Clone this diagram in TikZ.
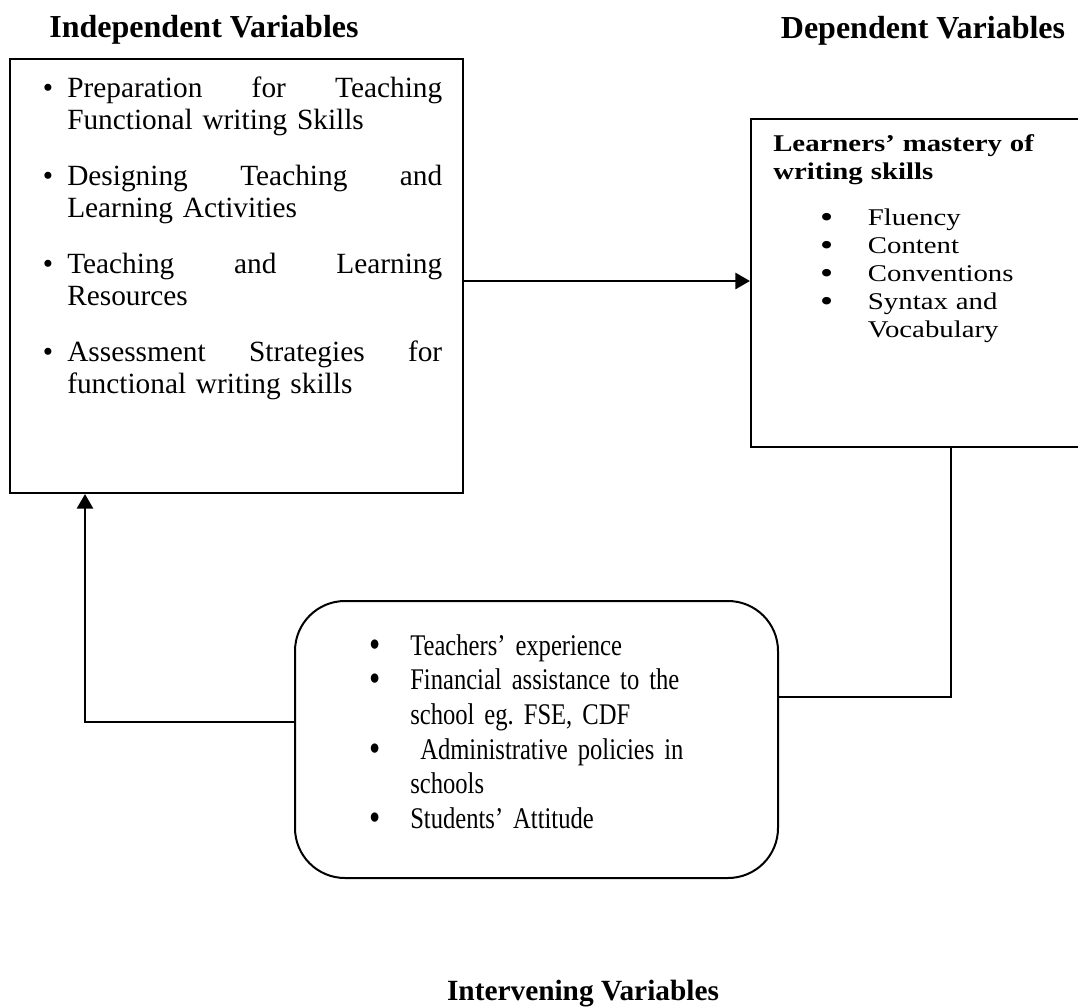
\documentclass[tikz,border=0pt]{standalone}
\usepackage{fontspec}
\usepackage{graphicx}
\setmainfont{Liberation Serif}
\newfontfamily\widefont[FakeStretch=1.2]{Liberation Serif}
\newfontfamily\narrowfont[FakeStretch=0.82]{Liberation Serif}
\usetikzlibrary{arrows.meta,positioning,calc}
\newcommand{\indbullet}{\leavevmode\llap{\textbullet\hspace{10.5pt}}}
\newcommand{\depbullet}{\leavevmode\hspace*{71pt}\llap{\raisebox{-1.5pt}{\scalebox{1.3}{\textbullet}}\hspace{26pt}}}
\newcommand{\intbullet}{\leavevmode\llap{\raisebox{-1.5pt}{\scalebox{1.3}{\textbullet}}\hspace{22pt}}}

\begin{document}
\begin{tikzpicture}[
    x=0.75pt,y=-0.75pt,
    frame/.style={draw,line width=1.5pt,inner sep=0pt},
    list/.style={inner sep=0pt,anchor=north west,align=left},
    head/.style={anchor=base,inner sep=0pt,font=\fontsize{24}{28}\selectfont\bfseries},
    arr/.style={-{Triangle[length=11pt,width=12pt]},line width=2.2pt},
    link/.style={line width=1.5pt}
  ]
    \useasboundingbox (0,0) rectangle (1078,1007);
    % headings
    \node[head] (indhead) at (204,37) {Independent Variables};
    \node[head] (dephead) at (923,38) {Dependent Variables};
    \node[head,font=\fontsize{22}{26}\selectfont\bfseries] (inthead) at (583,1000) {Intervening Variables};
    % boxes
    \node[frame,minimum width=339.75pt,minimum height=325.5pt] (indbox) at (236.5,276) {};
    \node[frame,minimum width=250.5pt,minimum height=246pt] (depbox) at (918,283) {};
    \node[frame,rounded corners=37.5pt,minimum width=362.25pt,minimum height=207.75pt] (intbox) at (536.5,739.5) {};
    % box contents
    \node[list,text width=281.25pt,font=\fontsize{22}{24}\selectfont] (indtext) at (67,77) {%
      \indbullet Preparation\hfill for\hfill Teaching\\
      Functional writing Skills\\[18pt]
      \indbullet Designing\hfill Teaching\hfill and\\
      Learning Activities\\[18pt]
      \indbullet Teaching\hfill and\hfill Learning\\
      Resources\\[18pt]
      \indbullet Assessment\hfill Strategies\hfill for\\
      functional writing skills};
    \node[list,text width=225pt,font=\widefont\fontsize{18}{21}\selectfont] (deptext) at (773,134) {%
      \textbf{Learners’ mastery of}\\
      \textbf{writing skills}\\[13.5pt]
      \depbullet Fluency\\
      \depbullet Content\\
      \depbullet Conventions\\
      \depbullet Syntax and\\
      \hspace*{71pt}Vocabulary};
    \node[list,text width=240pt,font=\narrowfont\fontsize{22.5}{26}\selectfont] (inttext) at (410,634) {%
      \intbullet Teachers’ experience\\
      \intbullet Financial assistance to the\\
      school eg.\ FSE, CDF\\
      \intbullet\ Administrative policies in\\
      schools\\
      \intbullet Students’ Attitude};
    % connectors
    \draw[arr] ($(indbox.east |- depbox.west)+(0,-2)$) -- ($(depbox.west)+(0,-2)$);
    \draw[arr] ($(intbox.west)+(0,-17.5)$) -| ($(indbox.south west)+(76,0)$);
    \draw[link] ($(intbox.east)+(0,-42.5)$) -| ($(depbox.south)+(33,0)$);
  \end{tikzpicture}
\end{document}
